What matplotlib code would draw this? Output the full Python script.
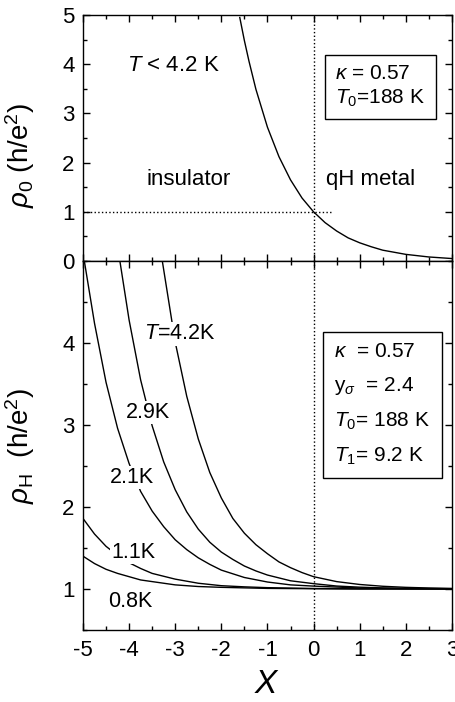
import numpy as np
import matplotlib
matplotlib.use('Agg')
import matplotlib.pyplot as plt
from matplotlib.ticker import MultipleLocator

plt.rcParams['font.family'] = ['Liberation Sans', 'DejaVu Sans']
plt.rcParams['mathtext.fontset'] = 'custom'
plt.rcParams['mathtext.rm'] = 'Liberation Sans'
plt.rcParams['mathtext.it'] = 'Liberation Sans:italic'
plt.rcParams['axes.unicode_minus'] = False

# ------------------------------------------------------------------------
# data

# top panel: rho_0 vs X
x_rho0 = [-1.6, -1.5, -1.4, -1.25, -1.0, -0.75, -0.5, -0.25, 0.0, 0.25,
          0.5, 0.75, 1.0, 1.25, 1.5, 2.0, 2.5, 3.0]
rho0 = [4.95, 4.48, 4.06, 3.49, 2.72, 2.12, 1.65, 1.28, 1.00, 0.78,
        0.61, 0.47, 0.37, 0.29, 0.22, 0.135, 0.082, 0.05]

# bottom panel: rho_H vs X for several temperatures
x_42 = [-3.28, -3.0, -2.75, -2.5, -2.25, -2.0, -1.75, -1.5, -1.25, -1.0,
        -0.75, -0.5, -0.25, 0.0, 0.5, 1.0, 1.5, 2.0, 2.5, 3.0]
rho_42 = [5.0, 4.01, 3.35, 2.83, 2.42, 2.11, 1.86, 1.68, 1.54, 1.43,
          1.33, 1.26, 1.20, 1.15, 1.09, 1.055, 1.033, 1.02, 1.012, 1.007]

x_29 = [-4.2, -4.0, -3.75, -3.5, -3.25, -3.0, -2.75, -2.5, -2.25, -2.0,
        -1.75, -1.5, -1.25, -1.0, -0.5, 0.0, 0.5, 1.0, 1.5, 2.0, 3.0]
rho_29 = [5.0, 4.28, 3.55, 2.99, 2.55, 2.21, 1.94, 1.73, 1.57, 1.45,
          1.36, 1.28, 1.22, 1.17, 1.10, 1.065, 1.036, 1.022, 1.013, 1.008, 1.003]

x_21 = [-5.0, -4.75, -4.5, -4.25, -4.0, -3.75, -3.5, -3.25, -3.0, -2.75,
        -2.5, -2.25, -2.0, -1.5, -1.0, -0.5, 0.0, 1.0, 2.0, 3.0]
rho_21 = [5.1, 4.24, 3.52, 2.96, 2.53, 2.19, 1.95, 1.76, 1.60, 1.48,
          1.38, 1.30, 1.23, 1.14, 1.085, 1.05, 1.035, 1.012, 1.004, 1.0]

x_11 = [-5.0, -4.75, -4.5, -4.25, -4.0, -3.75, -3.5, -3.0, -2.5, -2.0,
        -1.5, -1.0, 0.0, 1.0, 3.0]
rho_11 = [1.86, 1.67, 1.52, 1.41, 1.32, 1.25, 1.19, 1.12, 1.07, 1.04,
          1.026, 1.016, 1.006, 1.002, 1.0]

x_08 = [-5.0, -4.75, -4.5, -4.25, -4.0, -3.75, -3.5, -3.0, -2.5, -2.0,
        -1.0, 0.0, 1.0, 3.0]
rho_08 = [1.40, 1.31, 1.24, 1.19, 1.15, 1.11, 1.09, 1.05, 1.03, 1.02,
          1.007, 1.003, 1.0, 1.0]

# ------------------------------------------------------------------------
fig = plt.figure(figsize=(4.56, 7.02), dpi=100)
ax1 = fig.add_axes([0.182, 0.6282, 0.809, 0.3504])
ax2 = fig.add_axes([0.182, 0.1026, 0.809, 0.5256])

for ax in (ax1, ax2):
    ax.set_xlim(-5, 3)
    ax.xaxis.set_major_locator(MultipleLocator(1))
    ax.xaxis.set_minor_locator(MultipleLocator(0.5))
    ax.yaxis.set_major_locator(MultipleLocator(1))
    ax.yaxis.set_minor_locator(MultipleLocator(0.5))
    ax.tick_params(which='both', direction='in', top=True, right=True,
                   labelsize=16, width=1)
    ax.tick_params(which='major', length=5)
    ax.tick_params(which='minor', length=3)
    ax.tick_params(axis='y', pad=6)
    ax.tick_params(axis='x', pad=7)
    for s in ax.spines.values():
        s.set_linewidth(1)
    ax.axvline(0, color='k', ls=':', lw=1)

# top panel
ax1.set_ylim(0, 5)
ax1.tick_params(labelbottom=False)
ax1.plot(x_rho0, rho0, 'k-', lw=1)
ax1.plot([-5, 0.43], [1, 1], 'k:', lw=1)
ax1.set_ylabel(r'$\rho_0$ (h/e$^2$)', fontsize=20)
ax1.yaxis.set_label_coords(-0.125, 0.43)
ax1.text(-3.05, 3.98, r'$T$ < 4.2 K', fontsize=16, ha='center', va='center')
ax1.text(-2.72, 1.65, 'insulator', fontsize=16, ha='center', va='center')
ax1.text(1.23, 1.65, 'qH metal', fontsize=16, ha='center', va='center')
ax1.text(0.47, 3.55, '$\\kappa$ = 0.57\n$T_0$=188 K', fontsize=15,
         ha='left', va='center', linespacing=1.25,
         bbox=dict(boxstyle='square,pad=0.5', fc='white', ec='k', lw=1))

# bottom panel
ax2.set_ylim(0.5, 5)
ax2.set_yticks([1, 2, 3, 4])
for xs, ys in [(x_42, rho_42), (x_29, rho_29), (x_21, rho_21),
               (x_11, rho_11), (x_08, rho_08)]:
    ax2.plot(xs, ys, 'k-', lw=1)
ax2.set_ylabel(r'$\rho_{\rm H}$  (h/e$^2$)', fontsize=20)
ax2.yaxis.set_label_coords(-0.125, 0.5)
ax2.set_xlabel(r'$X$', fontsize=24, labelpad=6)

lab_kw = dict(fontsize=15.5, ha='center', va='center',
              bbox=dict(boxstyle='square,pad=0.05', fc='white', ec='none'))
ax2.text(-2.9, 4.11, r'$T$=4.2K', **lab_kw)
ax2.text(-3.6, 3.15, '2.9K', **lab_kw)
ax2.text(-3.93, 2.36, '2.1K', **lab_kw)
ax2.text(-3.91, 1.45, '1.1K', **lab_kw)
ax2.text(-3.98, 0.85, '0.8K', **lab_kw)

ax2.text(0.45, 3.25,
         '$\\kappa$  = 0.57\ny$_\\sigma$  = 2.4\n$T_0$= 188 K\n$T_1$= 9.2 K',
         fontsize=15, ha='left', va='center', linespacing=1.85,
         bbox=dict(boxstyle='square,pad=0.55', fc='white', ec='k', lw=1))

fig.savefig('out.png', dpi=100)
